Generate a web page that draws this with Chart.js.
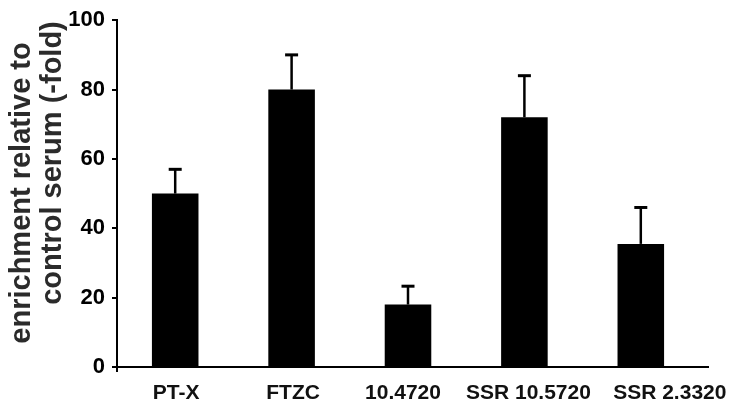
<!DOCTYPE html>
<html>
<head>
<meta charset="utf-8">
<script src="https://cdn.jsdelivr.net/npm/chart.js@4/dist/chart.umd.min.js"></script>
<style>
  html, body { margin: 0; padding: 0; background: #fff; }
  canvas { display: block; }
</style>
</head>
<body>
<canvas id="enrichment-chart" width="736" height="405"></canvas>
<script>
// values
const categories = ['PT-X', 'FTZC', '10.4720', 'SSR 10.5720', 'SSR 2.3320']
const enrichment = [50, 80, 18, 72, 35.5]
const errorUp = [7, 10, 5.3, 12, 10.5]
const yTicks = [0, 20, 40, 60, 80, 100]
const yTitle = ['enrichment relative to', 'control serum (-fold)']

const FONT = '"Liberation Sans", Arial, Helvetica, sans-serif'
// the original nudges crowded category labels sideways so they don't collide
const labelNudge = [1, 1.5, -5, 4, 29]

// upper error bars only, drawn through the y scale
const errorBars = {
  id: 'errorBars',
  afterDatasetsDraw(chart) {
    const { ctx, scales: { y } } = chart
    const meta = chart.getDatasetMeta(0)
    ctx.save()
    ctx.strokeStyle = '#000'
    meta.data.forEach((bar, i) => {
      const top = y.getPixelForValue(enrichment[i])
      const end = y.getPixelForValue(enrichment[i] + errorUp[i])
      ctx.lineWidth = 2.5
      ctx.beginPath()
      ctx.moveTo(bar.x, top)
      ctx.lineTo(bar.x, end)
      ctx.stroke()
      ctx.lineWidth = 3
      ctx.beginPath()
      ctx.moveTo(bar.x - 6.5, end)
      ctx.lineTo(bar.x + 6.5, end)
      ctx.stroke()
    })
    ctx.restore()
  },
}

// axis overhangs, category labels and the two-line rotated y title
const axisExtras = {
  id: 'axisExtras',
  afterDraw(chart) {
    const { ctx, chartArea: a, scales: { x } } = chart
    ctx.save()
    ctx.strokeStyle = '#000'
    ctx.lineWidth = 2
    ctx.beginPath()
    ctx.moveTo(a.left - 4, a.bottom)
    ctx.lineTo(a.right + 10, a.bottom)
    ctx.moveTo(a.left, a.bottom)
    ctx.lineTo(a.left, a.bottom + 5)
    ctx.stroke()

    ctx.fillStyle = '#111'
    ctx.font = `bold 21px ${FONT}`
    ctx.textAlign = 'center'
    ctx.textBaseline = 'alphabetic'
    categories.forEach((label, i) => {
      ctx.fillText(label, x.getPixelForValue(i) + labelNudge[i], a.bottom + 32)
    })

    ctx.fillStyle = '#2b2b2b'
    ctx.font = `bold 29px ${FONT}`
    const spots = [[30, 193], [61, 163]]
    yTitle.forEach((line, i) => {
      ctx.save()
      ctx.translate(spots[i][0], spots[i][1])
      ctx.rotate(-Math.PI / 2)
      ctx.fillText(line, 0, 0)
      ctx.restore()
    })
    ctx.restore()
  },
}

new Chart(document.getElementById('enrichment-chart'), {
  type: 'bar',
  data: {
    labels: categories,
    datasets: [{
      data: enrichment,
      backgroundColor: '#000',
      borderWidth: 0,
      barPercentage: 0.4,
      categoryPercentage: 1.0,
    }],
  },
  options: {
    responsive: false,
    animation: false,
    layout: { padding: { left: 0, right: 37, top: 16, bottom: 0 } },
    plugins: {
      legend: { display: false },
      tooltip: { enabled: false },
    },
    scales: {
      x: {
        grid: { display: false },
        border: { display: true, color: '#000', width: 2 },
        ticks: { display: false },
        afterFit: (s) => { s.height = 38 },
      },
      y: {
        min: 0,
        max: 100,
        afterBuildTicks: (s) => { s.ticks = yTicks.map(v => ({ value: v })) },
        grid: { display: true, drawOnChartArea: false, tickLength: 5, color: '#000', lineWidth: 2 },
        border: { display: true, color: '#000', width: 2 },
        ticks: { color: '#000', font: { family: FONT, size: 22, weight: 'bold' }, padding: 7 },
        afterFit: (s) => { s.width = 117 },
      },
    },
  },
  plugins: [errorBars, axisExtras],
})
</script>
</body>
</html>
